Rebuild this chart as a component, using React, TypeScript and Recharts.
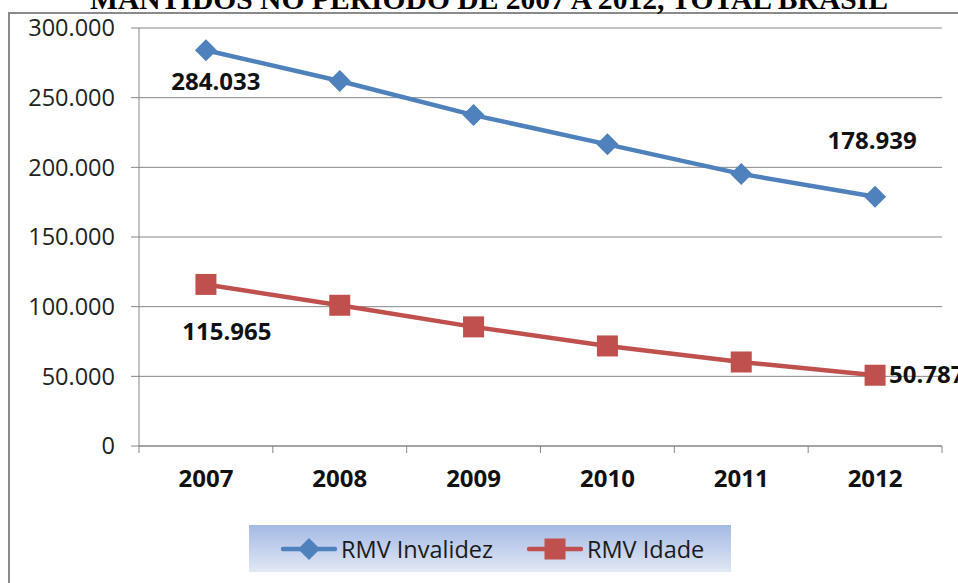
import { LineChart, Line, XAxis, YAxis, CartesianGrid, Legend, LabelList } from "recharts";

const years = ["2007", "2008", "2009", "2010", "2011", "2012"];
const invalidez = [284033, 262000, 237500, 216500, 195300, 178939];
const idade = [115965, 101000, 85500, 71800, 60300, 50787];
const yTicks = [0, 50000, 100000, 150000, 200000, 250000, 300000];

const BLUE = "#4f81bd";
const RED = "#c0504d";
const GRID = "#868686";
const FONT = "'Open Sans', sans-serif";

const rows = years.map((year, i) => ({ x: i + 0.5, year, invalidez: invalidez[i], idade: idade[i] }));
const xTicks = years.flatMap((_, i) => [i, i + 0.5]).concat(years.length);

function fmt(v: number) {
  return String(Math.round(v)).replace(/\B(?=(\d{3})+(?!\d))/g, ".");
}

function Diamond(props: any) {
  const { cx, cy } = props;
  if (cx == null || cy == null) return null;
  const r = 11;
  return <polygon points={`${cx},${cy - r} ${cx + r},${cy} ${cx},${cy + r} ${cx - r},${cy}`} fill={BLUE} />;
}

function Square(props: any) {
  const { cx, cy } = props;
  if (cx == null || cy == null) return null;
  return <rect x={cx - 10.5} y={cy - 10.5} width={21} height={21} fill={RED} />;
}

function XTick(props: any) {
  const { x, y, payload } = props;
  const v = payload.value as number;
  if (Number.isInteger(v)) {
    return <line x1={x} y1={y} x2={x} y2={y + 7} stroke={GRID} strokeWidth={1} />;
  }
  const row = rows.find((r) => r.x === v);
  return (
    <text x={x} y={y + 41} textAnchor="middle" fontFamily={FONT} fontWeight={700} fontSize={24} fill="#111">
      {row ? row.year : ""}
    </text>
  );
}

// only first and last points carry a value label, each nudged like the original
function labelFor(offsets: Record<number, [number, number, "start" | "middle"]>) {
  return (props: any) => {
    const { x, y, value, index } = props;
    const o = offsets[index];
    if (!o) return null;
    return (
      <text x={x + o[0]} y={y + o[1]} textAnchor={o[2]} fontFamily={FONT} fontWeight={700} fontSize={24} fill="#111">
        {fmt(value)}
      </text>
    );
  };
}

function LegendBox() {
  const item = (color: string, shape: "d" | "s", label: string) => (
    <div style={{ display: "flex", alignItems: "center" }}>
      <svg width={56} height={24} style={{ marginRight: 4 }}>
        <line x1={2} y1={12} x2={54} y2={12} stroke={color} strokeWidth={4.5} strokeLinecap="round" />
        {shape === "d" ? (
          <polygon points="28,1 39,12 28,23 17,12" fill={color} />
        ) : (
          <rect x={17.5} y={1.5} width={21} height={21} fill={color} />
        )}
      </svg>
      <span style={{ fontFamily: FONT, fontSize: 23.5, color: "#1a1a1a", lineHeight: "24px" }}>{label}</span>
    </div>
  );
  return (
    <div
      style={{
        width: 482,
        height: 47,
        background: "linear-gradient(#a3b9e4, #e2e8f5)",
        display: "flex",
        alignItems: "center",
        boxSizing: "border-box",
        paddingLeft: 32,
        gap: 34,
      }}
    >
      {item(BLUE, "d", "RMV Invalidez")}
      {item(RED, "s", "RMV Idade")}
    </div>
  );
}

export default function App() {
  return (
    <div style={{ position: "fixed", left: 0, top: 0, width: 958, height: 583, overflow: "hidden", background: "#fff" }}>
      <div
        style={{
          position: "absolute",
          left: 8,
          top: 12,
          width: 1200,
          height: 800,
          borderLeft: "2px solid #8a8a8a",
          borderTop: "2px solid #8a8a8a",
        }}
      />
      <svg width={958} height={20} style={{ position: "absolute", left: 0, top: 0 }}>
        <text
          x={489}
          y={9}
          textAnchor="middle"
          fontFamily="'Liberation Serif', serif"
          fontWeight={700}
          fontSize={29}
          textLength={798}
          lengthAdjust="spacingAndGlyphs"
          fill="#000"
        >
          MANTIDOS NO PERÍODO DE 2007 A 2012, TOTAL BRASIL
        </text>
      </svg>
      <div style={{ position: "absolute", left: 0, top: 0 }}>
        <LineChart width={958} height={583} data={rows} margin={{ top: 28, right: 16, left: 0, bottom: 0 }}>
          <CartesianGrid horizontal vertical={false} stroke={GRID} strokeWidth={1} />
          <XAxis
            dataKey="x"
            type="number"
            domain={[0, years.length]}
            ticks={xTicks}
            interval={0}
            height={137}
            tickSize={0}
            tickMargin={0}
            tickLine={false}
            axisLine={{ stroke: GRID }}
            tick={<XTick />}
          />
          <YAxis
            width={139}
            domain={[0, 300000]}
            ticks={yTicks}
            interval={0}
            tickFormatter={fmt}
            tickSize={8}
            tickMargin={16}
            axisLine={{ stroke: GRID }}
            tickLine={{ stroke: GRID }}
            tick={{ fontFamily: FONT, fontSize: 23.5, fill: "#222" }}
          />
          <Legend
            layout="horizontal"
            verticalAlign="middle"
            align="center"
            wrapperStyle={{ left: 249, top: 525, width: 482, height: 47 }}
            content={() => <LegendBox />}
          />
          <Line
            dataKey="invalidez"
            stroke={BLUE}
            strokeWidth={4.5}
            dot={<Diamond />}
            activeDot={false}
            isAnimationActive={false}
          >
            <LabelList dataKey="invalidez" content={labelFor({ 0: [10, 40, "middle"], 5: [-3, -48, "middle"] })} />
          </Line>
          <Line
            dataKey="idade"
            stroke={RED}
            strokeWidth={4.5}
            dot={<Square />}
            activeDot={false}
            isAnimationActive={false}
          >
            <LabelList dataKey="idade" content={labelFor({ 0: [21, 56, "middle"], 5: [14, 8, "start"] })} />
          </Line>
        </LineChart>
      </div>
    </div>
  );
}
